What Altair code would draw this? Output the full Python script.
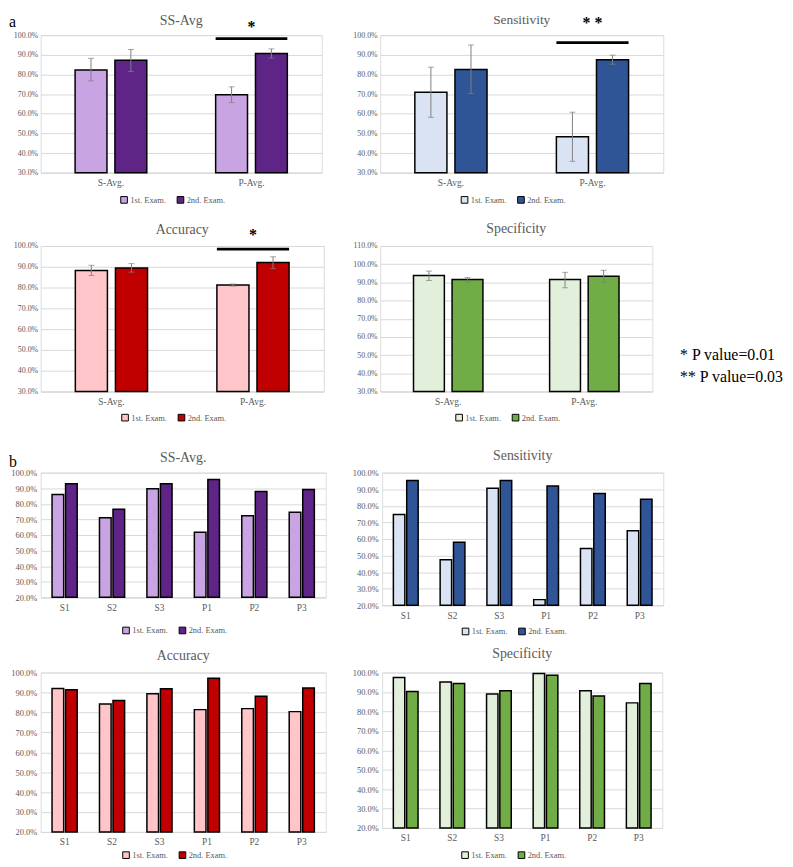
import altair as alt
import pandas as pd

SERIF = "Liberation Serif"
GRAY = "#595959"
GRID = "#d9d9d9"

EXAMS = ["1st. Exam.", "2nd. Exam."]
GROUPS = ["S-Avg.", "P-Avg."]
SUBJECTS = ["S1", "S2", "S3", "P1", "P2", "P3"]

# ---- (a) group averages (%), with error-bar low/high ----
ssavg_1 = [82.3, 69.7]
ssavg_2 = [87.2, 90.7]
ssavg_lo1 = [76.7, 65.7]
ssavg_hi1 = [88.2, 73.7]
ssavg_lo2 = [81.5, 88.3]
ssavg_hi2 = [92.7, 93.0]

sens_1 = [71.0, 48.3]
sens_2 = [82.5, 87.5]
sens_lo1 = [58.2, 35.8]
sens_hi1 = [83.7, 60.8]
sens_lo2 = [70.3, 85.2]
sens_hi2 = [95.0, 89.8]

acc_1 = [88.2, 81.2]
acc_2 = [89.4, 92.1]
acc_lo1 = [85.8, 80.7]
acc_hi1 = [90.7, 81.7]
acc_lo2 = [87.4, 89.1]
acc_hi2 = [91.5, 94.8]

spec_1 = [93.7, 91.5]
spec_2 = [91.5, 93.3]
spec_lo1 = [91.0, 87.0]
spec_hi1 = [96.2, 95.5]
spec_lo2 = [90.1, 90.1]
spec_hi2 = [92.6, 96.6]

# significance markers (group, bar level, star text, star level)
sig_ssavg = ("P-Avg.", 98.2, "*", 104.0)
sig_sens = ("P-Avg.", 96.2, "* *", 106.0)
sig_acc = ("P-Avg.", 98.5, "*", 105.2)

# ---- (b) per subject (%) ----
ss_b_1 = [86.0, 71.0, 89.6, 61.7, 72.3, 74.6]
ss_b_2 = [92.8, 76.5, 92.8, 95.6, 87.9, 89.2]
sens_b_1 = [74.8, 47.4, 90.6, 23.4, 54.2, 65.0]
sens_b_2 = [95.2, 58.0, 95.2, 92.0, 87.4, 84.0]
acc_b_1 = [92.0, 84.2, 89.4, 81.4, 81.9, 80.4]
acc_b_2 = [91.4, 86.0, 91.9, 97.2, 88.1, 92.2]
spec_b_1 = [97.5, 95.1, 89.0, 99.5, 90.7, 84.4]
spec_b_2 = [90.2, 94.4, 90.7, 98.6, 88.0, 94.4]

PURPLE = ["#C8A5E2", "#5E2586"]
BLUE = ["#DAE3F3", "#2F5597"]
RED = ["#FFC5C8", "#C00000"]
GREEN = ["#E2EFDA", "#70AD47"]

PVALUES = ["* P value=0.01", "** P value=0.03"]


def note(text, x, y, size=16, color="black", align="left"):
    return alt.Chart(pd.DataFrame({"t": [text]})).mark_text(
        font=SERIF, fontSize=size, color=color, align=align, baseline="middle").encode(
        x=alt.value(x), y=alt.value(y), text="t:N")


def panel(title, cats, v1, v2, colors, lo, hi, width, height,
          errs=None, sig=None, ylab=8, ylabpad=3, pin=0.49, pout=0.245, opad=0.2,
          ty=-17, tsize=14, legdy=23, extra=None):
    n = len(cats)
    df = pd.DataFrame({
        "cat": cats + cats,
        "exam": [EXAMS[0]] * n + [EXAMS[1]] * n,
        "val": v1 + v2,
        "base": [lo] * (2 * n),
    })
    xscale = alt.Scale(paddingInner=pin, paddingOuter=pout)
    xaxis = alt.Axis(labelAngle=0, ticks=False, domainColor=GRID, domainWidth=1,
                     labelFont=SERIF, labelFontSize=9.5, labelColor=GRAY, labelPadding=5,
                     grid=False)
    yscale = alt.Scale(domain=[lo, hi], nice=False, zero=False)
    yaxis = alt.Axis(values=list(range(lo, hi + 1, 10)),
                     labelExpr="format(datum.value, '.1f') + '%'",
                     domain=False, ticks=False, gridColor=GRID, gridWidth=1,
                     labelFont=SERIF, labelFontSize=ylab, labelColor=GRAY,
                     labelPadding=ylabpad)

    def X():
        return alt.X("cat:N", sort=cats, title=None, scale=xscale, axis=xaxis)

    def Y(f):
        return alt.Y(f, title=None, scale=yscale, axis=yaxis)

    xo = alt.XOffset("exam:N", sort=EXAMS, scale=alt.Scale(paddingInner=opad))
    color = alt.Color(
        "exam:N", sort=EXAMS, scale=alt.Scale(domain=EXAMS, range=colors),
        legend=alt.Legend(title=None, orient="none", direction="horizontal",
                          legendX=width / 2 - 62, legendY=height + legdy,
                          symbolType="square", symbolSize=45,
                          symbolStrokeColor="black", symbolStrokeWidth=1,
                          labelFont=SERIF, labelFontSize=8.5, labelColor=GRAY,
                          labelOffset=2, columnPadding=8, padding=0))
    layers = [alt.Chart(df).mark_bar(stroke="black", strokeWidth=1.5).encode(
        x=X(), xOffset=xo, y=Y("val:Q"), y2=alt.Y2("base:Q"), color=color)]

    if errs is not None:
        lo1, hi1, lo2, hi2 = errs
        edf = pd.DataFrame({
            "cat": cats + cats,
            "exam": [EXAMS[0]] * n + [EXAMS[1]] * n,
            "elo": lo1 + lo2,
            "ehi": hi1 + hi2,
        })
        eb = alt.Chart(edf)
        layers.append(eb.mark_rule(color="#7f7f7f", strokeWidth=1).encode(
            x=X(), xOffset=xo, y=Y("elo:Q"), y2=alt.Y2("ehi:Q")))
        layers.append(eb.mark_tick(color="#7f7f7f", size=6, thickness=1, orient="horizontal").encode(
            x=X(), xOffset=xo, y=Y("elo:Q")))
        layers.append(eb.mark_tick(color="#7f7f7f", size=6, thickness=1, orient="horizontal").encode(
            x=X(), xOffset=xo, y=Y("ehi:Q")))

    if sig is not None:
        g, level, star, starlev = sig
        sdf = pd.DataFrame({"cat": [g], "top": [level + 0.7], "bot": [level - 0.7],
                            "star": [star], "sy": [starlev]})
        sb = alt.Chart(sdf)
        layers.append(sb.mark_bar(color="black").encode(
            x=X(), y=Y("top:Q"), y2=alt.Y2("bot:Q")))
        layers.append(sb.mark_text(font=SERIF, fontSize=16, fontWeight="bold", color="black",
                                   baseline="middle").encode(
            x=X(), y=Y("sy:Q"), text="star:N"))

    layers.append(note(title, width / 2, ty, size=tsize, color=GRAY, align="center"))

    if extra is not None:
        layers.extend(extra)

    return alt.layer(*layers).properties(width=width, height=height)


label_a = note("a", -32, -13)
label_b = note("b", -32, -11)
pv1 = note(PVALUES[0], 303, 110)
pv2 = note(PVALUES[1], 303, 132)

p1 = panel("SS-Avg", GROUPS, ssavg_1, ssavg_2, PURPLE, 30, 100, 284, 139, ty=-14,
           errs=(ssavg_lo1, ssavg_hi1, ssavg_lo2, ssavg_hi2), sig=sig_ssavg, extra=[label_a])
p2 = panel("Sensitivity", GROUPS, sens_1, sens_2, BLUE, 30, 100, 286, 139, ty=-15,
           errs=(sens_lo1, sens_hi1, sens_lo2, sens_hi2), sig=sig_sens, tsize=13.5)
p3 = panel("Accuracy", GROUPS, acc_1, acc_2, RED, 30, 100, 286, 147, ty=-16,
           errs=(acc_lo1, acc_hi1, acc_lo2, acc_hi2), sig=sig_acc, legdy=22)
p4 = panel("Specificity", GROUPS, spec_1, spec_2, GREEN, 30, 110, 275, 147, ty=-17,
           errs=(spec_lo1, spec_hi1, spec_lo2, spec_hi2), legdy=22, extra=[pv1, pv2])

bk = dict(ylab=8.5, ylabpad=4, pin=0.47, pout=0.24, opad=0.14)
p5 = panel("SS-Avg.", SUBJECTS, ss_b_1, ss_b_2, PURPLE, 20, 100, 288, 126, legdy=29,
           ty=-15, extra=[label_b], **bk)
p6 = panel("Sensitivity", SUBJECTS, sens_b_1, sens_b_2, BLUE, 20, 100, 284, 134, legdy=22,
           ty=-17, **bk)
p7 = panel("Accuracy", SUBJECTS, acc_b_1, acc_b_2, RED, 20, 100, 288, 161, legdy=19,
           ty=-17, **bk)
p8 = panel("Specificity", SUBJECTS, spec_b_1, spec_b_2, GREEN, 20, 100, 283, 157, legdy=23,
           ty=-19, **bk)

IND = dict(color="independent", xOffset="independent", x="independent", y="independent")

row1 = alt.hconcat(p1, p2, spacing=29).resolve_scale(**IND)
row2 = alt.hconcat(p3, p4, spacing=27).resolve_scale(**IND)
row3 = alt.hconcat(p5, p6, spacing=25).resolve_scale(**IND)
row4 = alt.hconcat(p7, p8, spacing=25).resolve_scale(**IND)

top = alt.vconcat(row1, row2, spacing=15).resolve_scale(**IND)
bottom = alt.vconcat(row3, row4, spacing=8).resolve_scale(**IND)

chart = alt.vconcat(top, bottom, spacing=24).resolve_scale(**IND).properties(
    padding={"left": 0, "top": 0, "right": 0, "bottom": 0}
).configure_view(strokeOpacity=0).configure(background="white")

chart.save("out.html", embed_options={"renderer": "svg", "actions": False})
